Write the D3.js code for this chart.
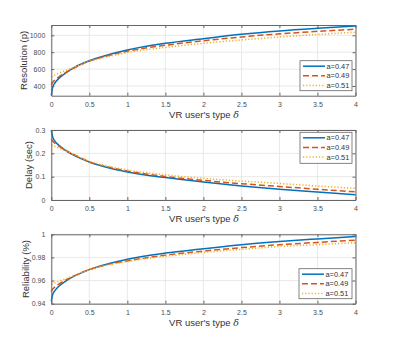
<!DOCTYPE html>
<html>
<head>
<meta charset="utf-8">
<script src="https://cdn.jsdelivr.net/npm/d3@7"></script>
<style>
body { margin: 0; background: #fff; }
svg { font-family: "Liberation Sans", Arial, sans-serif; }
</style>
</head>
<body>
<div id="chart"></div>
<script>
//Data
var delta = [0, 0.02, 0.05, 0.1, 0.2, 0.3, 0.5, 0.75, 1, 1.5, 2, 2.5, 3, 3.5, 4];
var seriesNames = ["a=0.47", "a=0.49", "a=0.51"];
var colors = ["#0072BD", "#D95319", "#EDB120"];
var dashes = [null, "6,3", "1.2,2"];

var resBlue = [290, 389, 438, 490, 562, 618, 698, 770, 826, 905, 960, 1012, 1052, 1083, 1110];
var resRed = [412, 445, 472, 508, 565, 613, 695, 760, 812, 882, 936, 980, 1017, 1047, 1072];
var resYellow = [510, 519, 532, 551, 587, 622, 690, 748, 795, 857, 905, 945, 980, 1010, 1037];

var delayBlue = [0.300, 0.268, 0.2515, 0.234, 0.2095, 0.1915, 0.163, 0.138, 0.120, 0.096, 0.077, 0.060, 0.046, 0.034, 0.023];
var delayRed = [0.260, 0.2515, 0.243, 0.2313, 0.212, 0.1946, 0.164, 0.141, 0.124, 0.101, 0.084, 0.070, 0.058, 0.046, 0.035];
var delayYellow = [0.235, 0.232, 0.229, 0.222, 0.209, 0.195, 0.166, 0.145, 0.129, 0.108, 0.093, 0.081, 0.071, 0.060, 0.050];

var relBlue = [0.9423, 0.9483, 0.9515, 0.9551, 0.960, 0.9638, 0.9695, 0.9745, 0.9785, 0.9838, 0.9875, 0.991, 0.9938, 0.996, 0.998];
var relRed = [0.9506, 0.9528, 0.9546, 0.957, 0.9608, 0.964, 0.9695, 0.974, 0.977, 0.982, 0.9855, 0.9885, 0.991, 0.993, 0.995];
var relYellow = [0.9569, 0.9574, 0.9581, 0.9594, 0.9618, 0.9643, 0.9695, 0.9735, 0.9765, 0.981, 0.9843, 0.987, 0.9895, 0.991, 0.9928];

var xTicks = [0, 0.5, 1, 1.5, 2, 2.5, 3, 3.5, 4];
var xTickLabels = ["0", "0.5", "1", "1.5", "2", "2.5", "3", "3.5", "4"];

var panels = [
    {ylabel: "Resolution (p)", series: [resBlue, resRed, resYellow], domain: [285, 1122],
     ticks: [400, 600, 800, 1000], fmt: d3.format("d"), top: 25, bottom: 95.7, ylx: 27,
     legend: {x: 300, y: 60.7, w: 52, h: 30}},
    {ylabel: "Delay (sec)", series: [delayBlue, delayRed, delayYellow], domain: [0, 0.3],
     ticks: [0, 0.1, 0.2, 0.3], fmt: function(d) { return d === 0 ? "0" : d3.format(".1f")(d); },
     top: 130, bottom: 200, ylx: 32, legend: {x: 300, y: 132.3, w: 52, h: 31}},
    {ylabel: "Reliability (%)", series: [relBlue, relRed, relYellow], domain: [0.94, 1],
     ticks: [0.94, 0.96, 0.98, 1], fmt: function(d) { return d === 1 ? "1" : d3.format(".2f")(d); },
     top: 234.3, bottom: 303.7, ylx: 29, legend: {x: 299, y: 268.7, w: 53, h: 30}}
];

var width = 395, height = 347;
var left = 51.3, right = 355.5;

var svg = d3.select("#chart")
    .append("svg")
    .attr("width", width)
    .attr("height", height);

var x = d3.scaleLinear().domain([0, 4]).range([left, right]);

panels.forEach(function(p) {
    var y = d3.scaleLinear().domain(p.domain).range([p.bottom, p.top]);
    var g = svg.append("g");

    //grid
    g.selectAll(".gx").data(xTicks).enter().append("line")
        .attr("x1", function(d) { return x(d); })
        .attr("x2", function(d) { return x(d); })
        .attr("y1", p.top).attr("y2", p.bottom)
        .attr("stroke", "#e3e3e3").attr("stroke-width", 0.8);
    g.selectAll(".gy").data(p.ticks).enter().append("line")
        .attr("x1", left).attr("x2", right)
        .attr("y1", function(d) { return y(d); })
        .attr("y2", function(d) { return y(d); })
        .attr("stroke", "#e3e3e3").attr("stroke-width", 0.8);

    //curves
    var line = d3.line()
        .x(function(d, i) { return x(delta[i]); })
        .y(function(d) { return y(d); })
        .curve(d3.curveMonotoneX);

    p.series.forEach(function(s, i) {
        g.append("path")
            .datum(s)
            .attr("d", line)
            .attr("fill", "none")
            .attr("stroke", colors[i])
            .attr("stroke-width", 1.5)
            .attr("stroke-dasharray", dashes[i]);
    });

    //axes (MATLAB style box with inner ticks)
    var axB = d3.axisBottom(x).tickValues(xTicks).tickFormat(function(d, i) { return xTickLabels[i]; })
        .tickSizeInner(-3).tickSizeOuter(0).tickPadding(6);
    var axT = d3.axisTop(x).tickValues(xTicks).tickFormat("").tickSizeInner(-3).tickSizeOuter(0);
    var axL = d3.axisLeft(y).tickValues(p.ticks).tickFormat(p.fmt)
        .tickSizeInner(-3).tickSizeOuter(0).tickPadding(6);
    var axR = d3.axisRight(y).tickValues(p.ticks).tickFormat("").tickSizeInner(-3).tickSizeOuter(0);

    var gb = g.append("g").attr("transform", "translate(0," + p.bottom + ")").call(axB);
    var gt = g.append("g").attr("transform", "translate(0," + p.top + ")").call(axT);
    var gl = g.append("g").attr("transform", "translate(" + left + ",0)").call(axL);
    var gr = g.append("g").attr("transform", "translate(" + right + ",0)").call(axR);

    [gb, gt, gl, gr].forEach(function(a) {
        a.select(".domain").attr("stroke", "#666").attr("stroke-width", 1);
        a.selectAll(".tick line").attr("stroke", "#666");
        a.selectAll("text").attr("fill", "#4d4d4d").style("font-size", "7px");
    });

    //labels
    g.append("text")
        .attr("x", 204).attr("y", p.bottom + 22)
        .attr("text-anchor", "middle")
        .attr("fill", "#333")
        .style("font-size", "9.5px")
        .text("VR user's type ")
        .append("tspan").style("font-family", "'DejaVu Serif', serif").style("font-style", "italic").text("δ");

    g.append("text")
        .attr("transform", "translate(" + p.ylx + "," + ((p.top + p.bottom) / 2) + ") rotate(-90)")
        .attr("text-anchor", "middle")
        .attr("fill", "#333")
        .style("font-size", "9.5px")
        .text(p.ylabel);

    //legend
    var L = p.legend;
    var lg = g.append("g");
    lg.append("rect")
        .attr("x", L.x).attr("y", L.y).attr("width", L.w).attr("height", L.h)
        .attr("fill", "#fff").attr("stroke", "#666").attr("stroke-width", 0.8);
    seriesNames.forEach(function(name, i) {
        var yy = L.y + 5.5 + i * 9.6;
        lg.append("line")
            .attr("x1", L.x + 3).attr("x2", L.x + 25)
            .attr("y1", yy).attr("y2", yy)
            .attr("stroke", colors[i]).attr("stroke-width", 1.5)
            .attr("stroke-dasharray", dashes[i]);
        lg.append("text")
            .attr("x", L.x + 26.5).attr("y", yy + 2.6)
            .attr("fill", "#333")
            .style("font-size", "7.4px")
            .text(name);
    });
});
</script>
</body>
</html>
